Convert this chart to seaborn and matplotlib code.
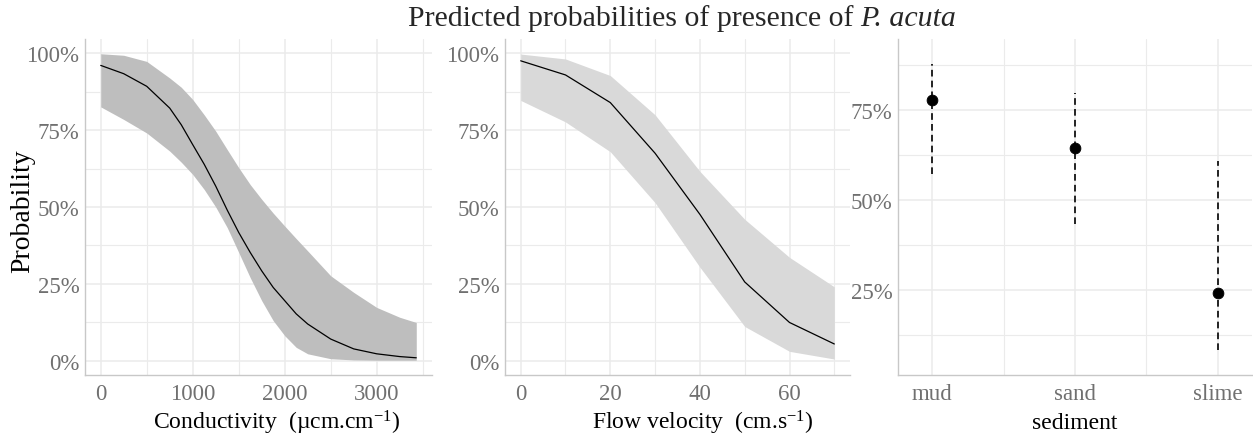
import numpy as np
import pandas as pd
import matplotlib.pyplot as plt
import seaborn as sns
from matplotlib.ticker import FixedLocator, PercentFormatter

# Conductivity panel
cond = [0, 250, 500, 750, 875, 1000, 1125, 1250, 1375, 1500, 1625, 1750, 1875, 2000, 2125,
        2250, 2500, 2750, 3000, 3250, 3430]
cond_fit = [0.961, 0.934, 0.893, 0.822, 0.768, 0.703, 0.639, 0.568, 0.490, 0.417, 0.352, 0.292,
            0.238, 0.195, 0.152, 0.119, 0.070, 0.038, 0.022, 0.013, 0.009]
cond_hi = [0.999, 0.994, 0.974, 0.920, 0.890, 0.850, 0.800, 0.747, 0.687, 0.628, 0.573, 0.525,
           0.480, 0.438, 0.397, 0.357, 0.276, 0.222, 0.173, 0.141, 0.124]
cond_lo = [0.826, 0.785, 0.741, 0.682, 0.646, 0.606, 0.557, 0.500, 0.433, 0.352, 0.270, 0.195,
           0.130, 0.081, 0.043, 0.022, 0.006, 0.002, 0.001, 0.001, 0.001]

# Flow velocity panel
flow = [0, 10, 20, 30, 40, 50, 60, 70]
flow_fit = [0.976, 0.930, 0.840, 0.675, 0.476, 0.256, 0.124, 0.054]
flow_hi = [0.998, 0.982, 0.928, 0.800, 0.616, 0.460, 0.336, 0.240]
flow_lo = [0.847, 0.777, 0.680, 0.514, 0.304, 0.111, 0.030, 0.005]

# Sediment panel
sediment = ["mud", "sand", "slime"]
sed_fit = [0.779, 0.645, 0.243]
sed_hi = [0.878, 0.798, 0.607]
sed_lo = [0.573, 0.433, 0.083]

sns.set_theme(style="whitegrid")
plt.rcParams["font.family"] = ["Liberation Serif", "DejaVu Serif"]
plt.rcParams["mathtext.fontset"] = "custom"
plt.rcParams["mathtext.rm"] = "Liberation Serif"
plt.rcParams["mathtext.it"] = "Liberation Serif:italic"

grid_col = "#ebebeb"
tick_col = "#707070"
spine_col = "#c8c8c8"

fig = plt.figure(figsize=(12.53, 4.39), dpi=100)
W, H = 1253, 439
def box(l, r, t, b):
    return [l / W, 1 - b / H, (r - l) / W, (b - t) / H]

ax1 = fig.add_axes(box(85, 432, 40, 376))
ax2 = fig.add_axes(box(505, 850, 40, 376))
ax3 = fig.add_axes(box(898, 1252, 40, 376))

def style(ax):
    ax.set_facecolor("white")
    for s in ["top", "right"]:
        ax.spines[s].set_visible(False)
    for s in ["left", "bottom"]:
        ax.spines[s].set_color(spine_col)
        ax.spines[s].set_linewidth(1.0)
    ax.grid(which="major", color=grid_col, linewidth=1.1)
    ax.grid(which="minor", color=grid_col, linewidth=0.8)
    ax.tick_params(which="both", length=0, labelsize=16.5, labelcolor=tick_col)
    ax.tick_params(axis="x", pad=6)
    ax.tick_params(axis="y", pad=4)
    ax.set_axisbelow(True)

# panel 1
df1 = pd.DataFrame({"x": cond, "y": cond_fit})
ax1.fill_between(cond, cond_lo, cond_hi, color="#bebebe", linewidth=0)
sns.lineplot(data=df1, x="x", y="y", ax=ax1, color="black", linewidth=0.9)
ax1.set_xlim(-171, 3601)
ax1.set_ylim(-0.047, 1.047)
ax1.xaxis.set_major_locator(FixedLocator([0, 1000, 2000, 3000]))
ax1.xaxis.set_minor_locator(FixedLocator([500, 1500, 2500, 3500]))
ax1.yaxis.set_major_locator(FixedLocator([0, 0.25, 0.5, 0.75, 1.0]))
ax1.yaxis.set_minor_locator(FixedLocator([0.125, 0.375, 0.625, 0.875]))
ax1.yaxis.set_major_formatter(PercentFormatter(1.0, decimals=0))
ax1.set_xlabel(r"Conductivity  (µcm.cm$^{-1}$)", fontsize=17, color="black")
ax1.set_ylabel("Probability", fontsize=20, color="black")
style(ax1)

# panel 2
df2 = pd.DataFrame({"x": flow, "y": flow_fit})
ax2.fill_between(flow, flow_lo, flow_hi, color="#d9d9d9", linewidth=0)
sns.lineplot(data=df2, x="x", y="y", ax=ax2, color="black", linewidth=0.9)
ax2.set_xlim(-3.5, 73.5)
ax2.set_ylim(-0.047, 1.047)
ax2.xaxis.set_major_locator(FixedLocator([0, 20, 40, 60]))
ax2.xaxis.set_minor_locator(FixedLocator([10, 30, 50, 70]))
ax2.yaxis.set_major_locator(FixedLocator([0, 0.25, 0.5, 0.75, 1.0]))
ax2.yaxis.set_minor_locator(FixedLocator([0.125, 0.375, 0.625, 0.875]))
ax2.yaxis.set_major_formatter(PercentFormatter(1.0, decimals=0))
ax2.set_xlabel(r"Flow velocity  (cm.s$^{-1}$)", fontsize=17, color="black")
ax2.set_ylabel("")
style(ax2)

# panel 3
df3 = pd.DataFrame({"sediment": sediment, "fit": sed_fit})
ax3.vlines(sediment, sed_lo, sed_hi, colors="black", linestyles=(0, (4, 2.5)), linewidth=1.2)
sns.scatterplot(data=df3, x="sediment", y="fit", ax=ax3, color="black", s=60, edgecolor="black", zorder=3)
ax3.set_xlim(-0.24, 2.24)
ax3.set_ylim(0.014, 0.947)
ax3.xaxis.set_minor_locator(FixedLocator([0.5, 1.5]))
ax3.yaxis.set_major_locator(FixedLocator([0.25, 0.5, 0.75]))
ax3.yaxis.set_minor_locator(FixedLocator([0.125, 0.375, 0.625, 0.875]))
ax3.yaxis.set_major_formatter(PercentFormatter(1.0, decimals=0))
ax3.set_xlabel("sediment", fontsize=17, color="black")
ax3.set_ylabel("")
style(ax3)

for ax, cx in [(ax1, 0.553), (ax2, 0.574), (ax3, 0.5)]:
    ax.xaxis.set_label_coords(cx, -0.14)
    ax.xaxis.label.set_va("center")
ax1.yaxis.set_label_coords(-0.18, 0.49)
ax1.yaxis.label.set_va("center")

# title: regular part + italic species name, centred as a whole
t1 = fig.text(0, 1 - 19 / H, "Predicted probabilities of presence of ", ha="left", va="center", fontsize=21.5)
t2 = fig.text(0, 1 - 19 / H, "P. acuta", ha="left", va="center", fontsize=21.5, style="italic")
fig.canvas.draw()
r = fig.canvas.get_renderer()
w1 = t1.get_window_extent(r).width
w2 = t2.get_window_extent(r).width
x0 = 682 - (w1 + w2) / 2
t1.set_x(x0 / W)
t2.set_x((x0 + w1) / W)

fig.savefig("out.png", dpi=100)
